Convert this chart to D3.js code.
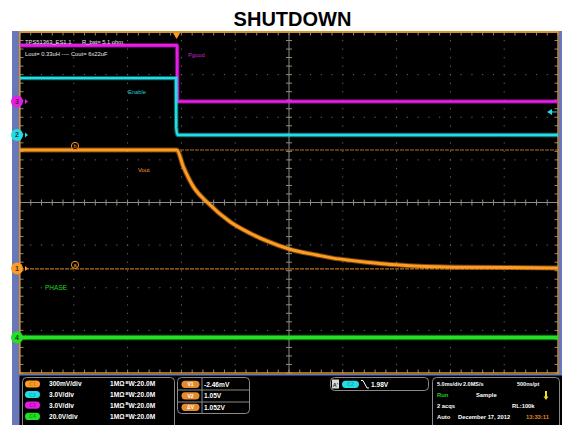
<!DOCTYPE html>
<html>
<head>
<meta charset="utf-8">
<script src="https://cdn.jsdelivr.net/npm/d3@7"></script>
<style>
  body { margin: 0; background: #fff; }
  svg { display: block; font-family: "Liberation Sans", Arial, sans-serif; }
</style>
</head>
<body>
<div id="vis"></div>
<script>
//-- Data (time in ms from left edge, volts)
var voutT = [0, 14.57, 15.18, 16.11, 17.5, 19.52, 21.38, 22.93, 25.09, 27.57, 29.09, 30.7, 32.22, 34.0, 36.25, 41.51, 50];
var voutV = [0.834, 0.834, 0.716, 0.576, 0.459, 0.329, 0.248, 0.194, 0.135, 0.095, 0.073, 0.057, 0.044, 0.031, 0.02, 0.009, 0.004];
var enableT = [0, 14.5, 14.52, 14.64, 50];
var enableV = [4.0, 4.0, 0.5, 0, 0];
var pgoodT = [0, 14.6, 14.62, 50];
var pgoodV = [3.95, 3.95, 0, 0];
var phaseT = [0, 50];
var phaseV = [0, 0];

var cursorV = [-0.00246, 0.834];          // V1, V2 on C1
var triggerT = 14.55;
var triggerLevel = 1.62;                  // on C2

var chanNames = ["C1", "C2", "C3", "C4"];
var chanScales = ["300mV/div", "3.0V/div", "3.0V/div", "20.0V/div"];
var readoutNames = ["V1", "V2", "\u0394V"];
var readoutValues = ["-2.46mV", "1.05V", "1.052V"];
var acqLines = [
  ["5.0ms/div", "2.0MS/s", "500ns/pt"],
  ["Run", "Sample", ""],
  ["2 acqs", "", "RL:100k"],
  ["Auto", "December 17, 2012", "13:33:11"]
];

//-- Setup
var width = 563;
var height = 425;

var svg = d3.select("#vis").append("svg")
  .attr("width", width)
  .attr("height", height)
  .attr("viewBox", [0, 0, width, height]);

var x = d3.scaleLinear().domain([0, 50]).range([20, 558]);
var div = d3.scaleLinear().domain([-4, 4]).range([373, 32]);

// channel: offset in divisions, volts per div, colour
var ch1 = { offset: -1.548, perDiv: 0.3, color: "#ff9a22", dark: "#c97a22", num: "1" };
var ch2 = { offset: 1.584, perDiv: 3, color: "#22dde6", dark: "#1aa8b0", num: "2" };
var ch3 = { offset: 2.37, perDiv: 3, color: "#e61ee6", dark: "#a010a0", num: "3" };
var ch4 = { offset: -3.167, perDiv: 20, color: "#22e022", dark: "#10a010", num: "4" };
var chans = [ch1, ch2, ch3, ch4];

function chanY(ch, v) { return div(ch.offset + v / ch.perDiv); }

function pts(t, v) { return t.map(function (d, i) { return [d, v[i]]; }); }

//-- Screen frame
svg.append("rect").attr("x", 12).attr("y", 31).attr("width", 551).attr("height", 394).attr("fill", "#000");
svg.append("rect").attr("x", 12).attr("y", 31).attr("width", 7.5).attr("height", 394).attr("fill", "#6876ba");
svg.append("rect").attr("x", 558.5).attr("y", 31).attr("width", 3.5).attr("height", 344).attr("fill", "#6876ba");
svg.append("rect").attr("x", 562).attr("y", 31).attr("width", 1).attr("height", 394).attr("fill", "#fff");
svg.append("rect").attr("x", 19).attr("y", 374).attr("width", 543).attr("height", 1.5).attr("fill", "#6876ba");

//-- Title
svg.append("text")
  .attr("x", 292.5).attr("y", 26)
  .attr("text-anchor", "middle")
  .style("font-size", "20px").style("font-weight", "bold")
  .text("SHUTDOWN");

//-- Graticule
var g = svg.append("g");
var subX = d3.range(0, 50.01, 1);
var subY = d3.range(-4, 4.01, 0.2);

// dotted division lines
d3.range(5, 50, 5).filter(function (t) { return t !== 25; }).forEach(function (t) {
  g.selectAll(null).data(subY).enter().append("rect")
    .attr("x", x(t) - 0.5).attr("y", function (d) { return div(d) - 0.5; })
    .attr("width", 1).attr("height", 1.2).attr("fill", "#6a6a6a");
});
d3.range(-3, 4).filter(function (d) { return d !== 0; }).forEach(function (dv) {
  g.selectAll(null).data(subX).enter().append("rect")
    .attr("x", function (d) { return x(d) - 0.6; }).attr("y", div(dv) - 0.5)
    .attr("width", 1.2).attr("height", 1).attr("fill", "#6a6a6a");
});

// center cross
g.append("line").attr("x1", x(25)).attr("x2", x(25)).attr("y1", div(4)).attr("y2", div(-4))
  .attr("stroke", "#8e8e84").attr("stroke-width", 1);
g.append("line").attr("x1", x(0)).attr("x2", x(50)).attr("y1", div(0)).attr("y2", div(0))
  .attr("stroke", "#8e8e84").attr("stroke-width", 1);
g.selectAll(null).data(subY).enter().append("line")
  .attr("x1", x(25) - 3).attr("x2", x(25) + 3)
  .attr("y1", function (d) { return div(d); }).attr("y2", function (d) { return div(d); })
  .attr("stroke", "#8e8e84");
g.selectAll(null).data(subX).enter().append("line")
  .attr("x1", function (d) { return x(d); }).attr("x2", function (d) { return x(d); })
  .attr("y1", div(0) - 3).attr("y2", div(0) + 3)
  .attr("stroke", "#8e8e84");

// edge ticks
g.selectAll(null).data(subX).enter().append("line")
  .attr("x1", function (d) { return x(d); }).attr("x2", function (d) { return x(d); })
  .attr("y1", div(4)).attr("y2", div(4) + 3.5).attr("stroke", "#8a8a8a");
g.selectAll(null).data(subX).enter().append("line")
  .attr("x1", function (d) { return x(d); }).attr("x2", function (d) { return x(d); })
  .attr("y1", div(-4)).attr("y2", div(-4) - 3.5).attr("stroke", "#8a8a8a");
g.selectAll(null).data(subY).enter().append("line")
  .attr("x1", x(0)).attr("x2", x(0) + 3.5)
  .attr("y1", function (d) { return div(d); }).attr("y2", function (d) { return div(d); })
  .attr("stroke", "#8a8a8a");
g.selectAll(null).data(subY).enter().append("line")
  .attr("x1", x(50)).attr("x2", x(50) - 3.5)
  .attr("y1", function (d) { return div(d); }).attr("y2", function (d) { return div(d); })
  .attr("stroke", "#8a8a8a");

// orange graticule border (top, left, bottom, right)
svg.append("line").attr("x1", 19).attr("x2", 559).attr("y1", 32).attr("y2", 32).attr("stroke", "#d4952e").attr("stroke-width", 2);
svg.append("line").attr("x1", 19.8).attr("x2", 19.8).attr("y1", 31).attr("y2", 374).attr("stroke", "#d4952e").attr("stroke-width", 1.6);
svg.append("line").attr("x1", 19).attr("x2", 559).attr("y1", 373).attr("y2", 373).attr("stroke", "#d4952e").attr("stroke-width", 1.4);
svg.append("line").attr("x1", 558).attr("x2", 558).attr("y1", 31).attr("y2", 374).attr("stroke", "#d4952e").attr("stroke-width", 1.4);

//-- Cursors on C1
svg.selectAll(".cursor").data(cursorV).enter().append("line")
  .attr("class", "cursor")
  .attr("x1", x(0)).attr("x2", x(50))
  .attr("y1", function (d) { return chanY(ch1, d); })
  .attr("y2", function (d) { return chanY(ch1, d); })
  .attr("stroke", "#b8701e").attr("stroke-width", 1.2)
  .attr("stroke-dasharray", "4,1");

//-- Traces
function trace(ch, data, w) {
  var line = d3.line()
    .x(function (d) { return x(d[0]); })
    .y(function (d) { return chanY(ch, d[1]); })
    .curve(d3.curveMonotoneX);
  svg.append("path").datum(data)
    .attr("d", line).attr("fill", "none")
    .attr("stroke", ch.color).attr("stroke-opacity", 0.45)
    .attr("stroke-width", w + 2);
  svg.append("path").datum(data)
    .attr("d", line).attr("fill", "none")
    .attr("stroke", ch.color).attr("stroke-width", w);
}
trace(ch4, pts(phaseT, phaseV), 3.5);
trace(ch1, pts(voutT, voutV), 3);
trace(ch3, pts(pgoodT, pgoodV), 2.6);
trace(ch2, pts(enableT, enableV), 2.4);

//-- Channel ground markers
var mk = svg.selectAll(".mk").data(chans).enter().append("g")
  .attr("transform", function (d) { return "translate(17," + chanY(d, 0) + ")"; });
mk.append("circle").attr("r", 6).attr("fill", function (d) { return d.color; });
mk.append("path").attr("d", "M8,-2.5L11,0L8,2.5Z").attr("fill", function (d) { return d.color; });
mk.append("text").attr("y", 2.5).attr("text-anchor", "middle")
  .style("font-size", "7px").style("font-weight", "bold").attr("fill", "#333")
  .text(function (d) { return d.num; });

// trigger position and level
svg.append("path")
  .attr("d", "M" + (x(triggerT) - 3.5) + ",33L" + (x(triggerT) + 3.5) + ",33L" + x(triggerT) + ",39Z")
  .attr("fill", "#ff9a22");
var ty = chanY(ch2, triggerLevel);
svg.append("path").attr("d", "M547," + ty + "L552," + (ty - 3) + "L552," + (ty + 3) + "Z").attr("fill", ch2.color);
svg.append("line").attr("x1", 550).attr("x2", 557).attr("y1", ty).attr("y2", ty).attr("stroke", ch2.color);

// cursor letters
svg.selectAll(".cl").data([["b", cursorV[1]], ["a", cursorV[0]]]).enter().append("g")
  .attr("transform", function (d) { return "translate(75," + (chanY(ch1, d[1]) - 4) + ")"; })
  .each(function (d) {
    var s = d3.select(this);
    s.append("circle").attr("r", 3.6).attr("fill", "#000").attr("stroke", "#ff9a22").attr("stroke-width", 1);
    s.append("text").attr("y", 2).attr("text-anchor", "middle").style("font-size", "5.5px")
      .attr("fill", "#ff9a22").text(d[0]);
  });

//-- Labels on screen
function label(tx, ty, txt, col, size) {
  svg.append("text").attr("x", tx).attr("y", ty).attr("fill", col)
    .style("font-size", (size || 5.8) + "px").text(txt);
}
label(25, 44, "TPS51363_ES1.1", "#e8e8e8");
label(82, 44, "R_bst= 5.1 ohm", "#e8e8e8");
label(25, 56, "Lout= 0.33uH ---- Cout= 6x22uF", "#e8e8e8");
label(188, 57, "Pgood", "#d020d0");
label(128, 94, "Enable", "#20c8d0");
label(138, 172, "Vout", "#ff9a22");
label(45, 290, "PHASE", "#20d020", 6.5);

//-- Info panel
function box(bx, by, bw, bh) {
  svg.append("rect").attr("x", bx).attr("y", by).attr("width", bw).attr("height", bh)
    .attr("rx", 4).attr("fill", "none").attr("stroke", "#8a8a8a").attr("stroke-width", 1);
}
function pill(px, py, pw, col, txt, tcol) {
  svg.append("rect").attr("x", px).attr("y", py - 3.6).attr("width", pw).attr("height", 7.2)
    .attr("rx", 3.6).attr("fill", col);
  svg.append("text").attr("x", px + pw / 2).attr("y", py + 2).attr("text-anchor", "middle")
    .style("font-size", "5px").style("font-weight", "bold").attr("fill", tcol).text(txt);
}
function info(tx, ty, txt, col, size) {
  svg.append("text").attr("x", tx).attr("y", ty + 2.4).attr("fill", col || "#fff")
    .style("font-size", (size || 6.6) + "px").style("font-weight", "bold").text(txt);
}

// channel settings
box(22.5, 377.5, 152, 52);
var rowY = [384, 394.5, 405.2, 416.4];
chans.forEach(function (c, i) {
  pill(25, rowY[i], 15, c.color, chanNames[i], c.dark);
  info(49, rowY[i], chanScales[i]);
  info(110, rowY[i], "1M\u03a9");
  svg.append("text").attr("x", 125.5).attr("y", rowY[i] + 0.2).attr("fill", "#fff")
    .style("font-size", "4.2px").style("font-weight", "bold").text("B");
  info(128.5, rowY[i], "W:20.0M");
});

// cursor readouts
box(177.5, 377.5, 72, 36);
svg.append("line").attr("x1", 202).attr("x2", 202).attr("y1", 378).attr("y2", 413).attr("stroke", "#8a8a8a");
svg.append("line").attr("x1", 178).attr("x2", 249).attr("y1", 390).attr("y2", 390).attr("stroke", "#8a8a8a");
svg.append("line").attr("x1", 178).attr("x2", 249).attr("y1", 402).attr("y2", 402).attr("stroke", "#8a8a8a");
var rdY = [384.3, 395.8, 407.3];
readoutNames.forEach(function (n, i) {
  pill(181.5, rdY[i], 18, "#e68a30", n, "#fff");
  info(204, rdY[i], readoutValues[i]);
});

// trigger readout
box(330.5, 377.5, 98, 13);
svg.append("rect").attr("x", 332).attr("y", 379.5).attr("width", 7).attr("height", 9).attr("fill", "#dcdcdc");
svg.append("text").attr("x", 335.5).attr("y", 386.5).attr("text-anchor", "middle")
  .style("font-size", "5.5px").style("font-weight", "bold").attr("fill", "#222").text("A'");
pill(342, 384.3, 17, ch2.color, "C2", ch2.dark);
svg.append("path").attr("d", "M361,380.5L363,380.5L367,388L369,388").attr("fill", "none")
  .attr("stroke", "#fff").attr("stroke-width", 1);
info(371, 384.3, "1.98V");

// acquisition
box(432.5, 377.5, 127, 52);
var acqX = [437, 463, 517];
acqLines[0].forEach(function (t, j) { info(acqX[j], 384, t, null, 5.5); });
info(437, 394.5, acqLines[1][0], "#22d022", 5.8);
info(476, 394.5, acqLines[1][1], null, 5.8);
info(437, 405.2, acqLines[2][0], null, 5.8);
info(512, 405.2, acqLines[2][2], null, 5.8);
info(437, 416.4, acqLines[3][0], null, 5.8);
info(458, 416.4, acqLines[3][1], null, 5.8);
info(526, 416.4, acqLines[3][2], "#e08a20", 5.8);
// trigger state icon
svg.append("rect").attr("x", 545).attr("y", 391).attr("width", 2).attr("height", 6).attr("fill", "#f0e020");
svg.append("path").attr("d", "M543.5,396.5L548.5,396.5L546,400Z").attr("fill", "#f0e020");
</script>
</body>
</html>
